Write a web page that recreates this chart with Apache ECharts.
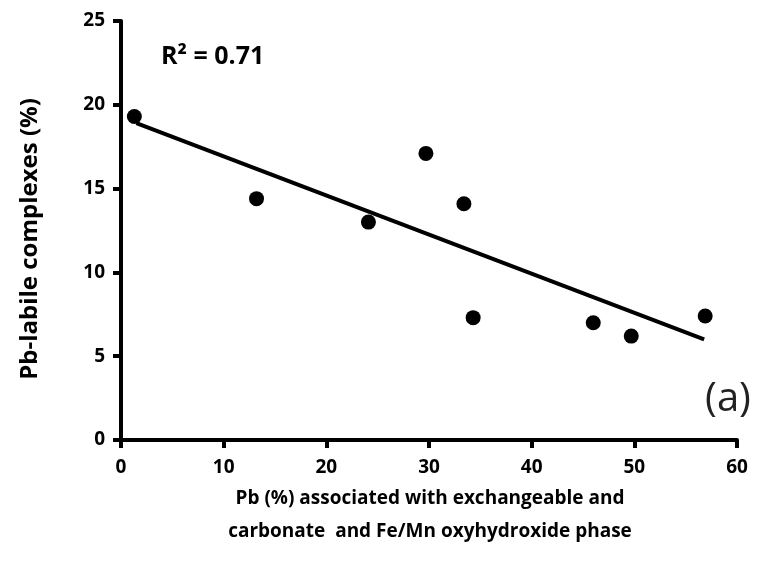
<!DOCTYPE html>
<html><head><meta charset="utf-8">
<script src="https://cdn.jsdelivr.net/npm/echarts@6/dist/echarts.min.js"></script>
<style>html,body{margin:0;padding:0;background:#fff}#c{width:758px;height:580px}</style>
</head><body><div id="c"></div>
<script>
var xValues = [1.3, 13.2, 24.1, 29.7, 33.4, 34.3, 46.0, 49.7, 56.9];
var yValues = [19.3, 14.4, 13.0, 17.1, 14.1, 7.3, 7.0, 6.2, 7.4];
var trendX = [1.5, 56.8];
var trendY = [18.9, 6.0];
var xTicks = [0, 10, 20, 30, 40, 50, 60];
var yTicks = [0, 5, 10, 15, 20, 25];
var xTitle = 'Pb (%) associated with exchangeable and\ncarbonate  and Fe/Mn oxyhydroxide phase';
var yTitle = 'Pb-labile complexes (%)';
var r2Text = 'R² = 0.71';
var panelLabel = '(a)';

var FONT = '"Open Sans", sans-serif';
var chart = echarts.init(document.getElementById('c'), null, {renderer: 'canvas'});
var pts = xValues.map(function (x, i) { return [x, yValues[i]]; });
var trend = trendX.map(function (x, i) { return [x, trendY[i]]; });
chart.setOption({
  animation: false,
  textStyle: {fontFamily: FONT, fontWeight: 'bold', color: '#000'},
  grid: {left: 121, right: 21, top: 21, bottom: 140, containLabel: false},
  xAxis: {
    type: 'value', min: xTicks[0], max: xTicks[xTicks.length - 1], interval: 10,
    axisLine: {show: true, onZero: false, lineStyle: {color: '#000', width: 4}},
    axisTick: {show: true, inside: false, length: 8, lineStyle: {color: '#000', width: 4}},
    splitLine: {show: false},
    axisLabel: {show: true, color: '#000', fontFamily: FONT, fontWeight: 'bold', fontSize: 19, margin: 18}
  },
  yAxis: {
    type: 'value', min: yTicks[0], max: yTicks[yTicks.length - 1], interval: 5,
    axisLine: {show: true, onZero: false, lineStyle: {color: '#000', width: 4}},
    axisTick: {show: true, inside: false, length: 8, lineStyle: {color: '#000', width: 4}},
    splitLine: {show: false},
    axisLabel: {show: true, color: '#000', fontFamily: FONT, fontWeight: 'bold', fontSize: 19, margin: 16}
  },
  series: [
    {type: 'line', data: trend, symbol: 'none', lineStyle: {color: '#000', width: 4}, z: 2},
    {type: 'scatter', data: pts, symbol: 'circle', symbolSize: 15, itemStyle: {color: '#000', opacity: 1}, z: 3}
  ],
  graphic: [
    {type: 'text', x: 161, y: 57, style: {text: r2Text, fill: '#000', font: 'bold 25px ' + FONT, textVerticalAlign: 'middle'}},
    {type: 'text', x: 728, y: 400, style: {text: panelLabel, fill: '#222', font: '40px ' + FONT, textAlign: 'center', textVerticalAlign: 'middle'}},
    {type: 'text', x: 430, y: 482, style: {text: xTitle, fill: '#000', font: 'bold 19px ' + FONT, textAlign: 'center', lineHeight: 33}},
    {type: 'text', x: 30, y: 239, rotation: Math.PI / 2, style: {text: yTitle, fill: '#000', font: 'bold 24px ' + FONT, textAlign: 'center', textVerticalAlign: 'middle'}}
  ]
});
</script></body></html>
